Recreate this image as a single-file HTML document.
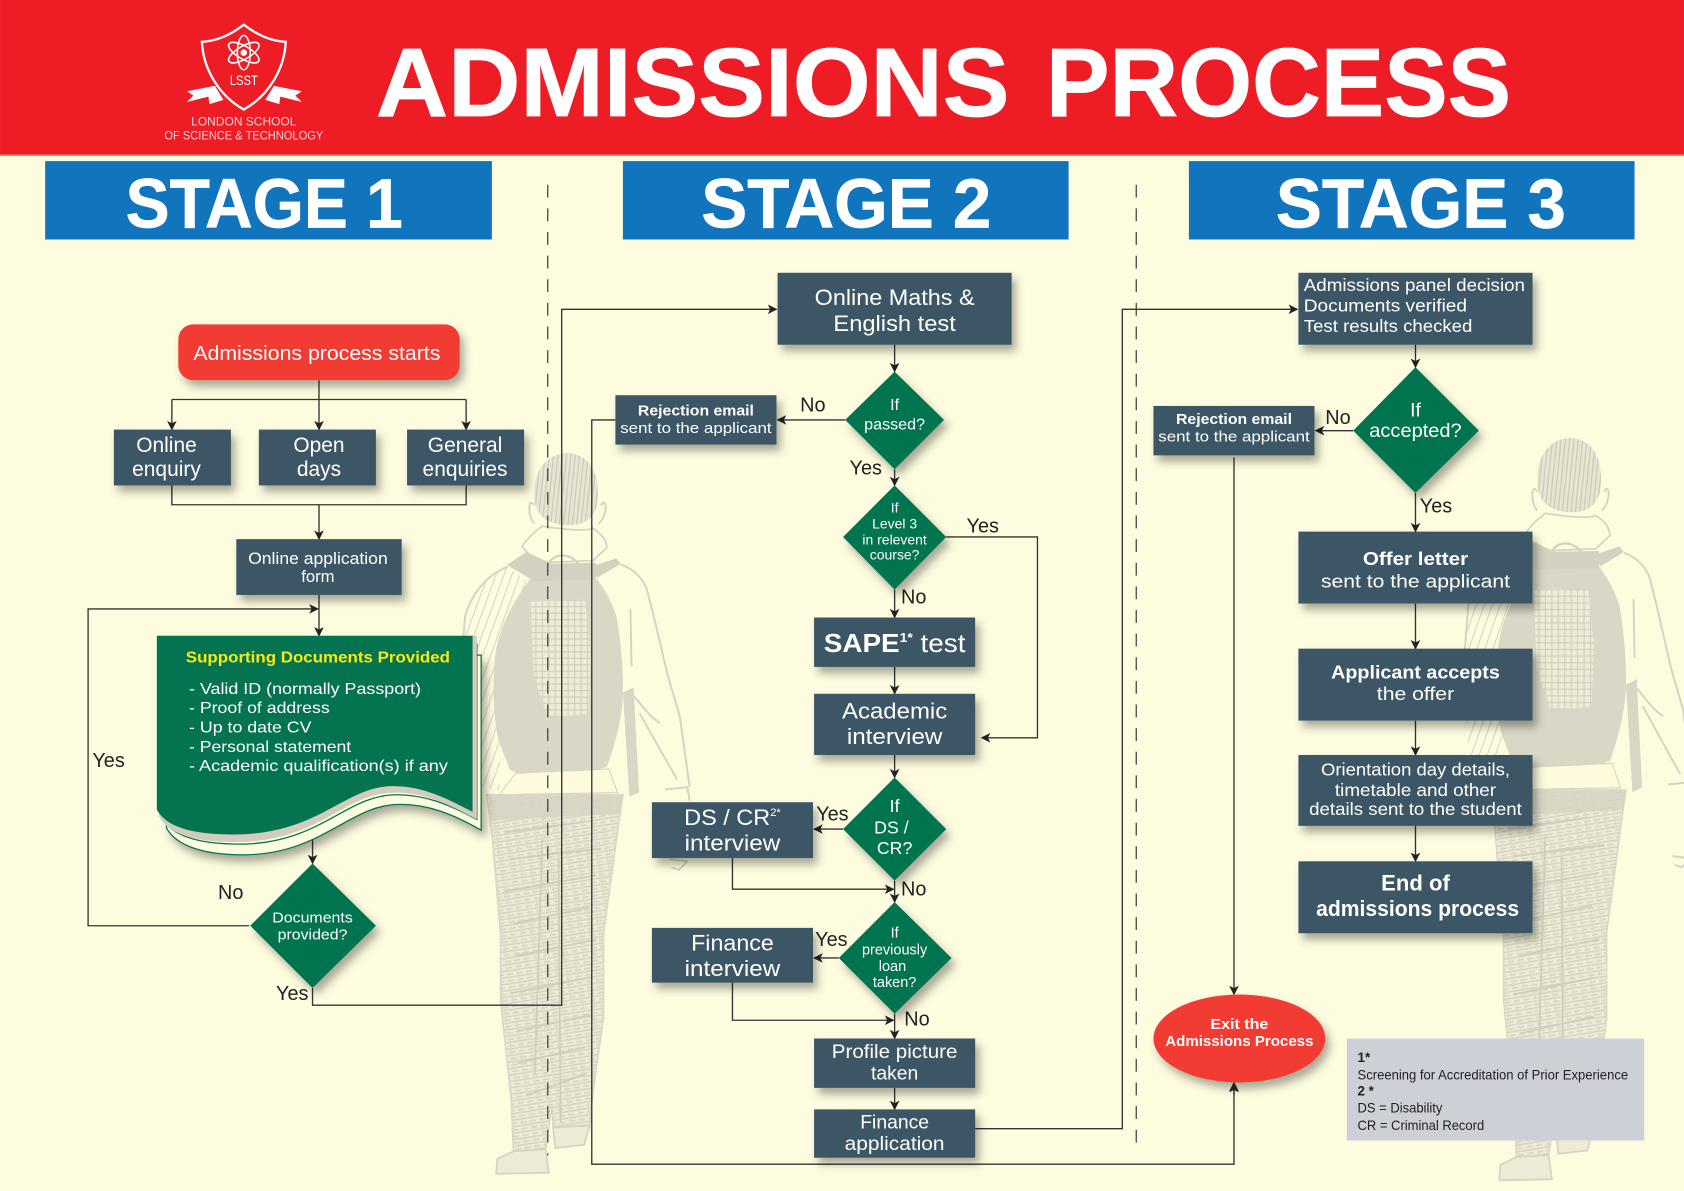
<!DOCTYPE html>
<html lang="en"><head><meta charset="utf-8"><title>Admissions Process</title>
<style>
html,body{margin:0;padding:0;background:#FEFCDF}
svg{display:block;width:1684px;height:1191px}
text{font-family:"Liberation Sans",sans-serif;fill:#fff}
.m{text-anchor:middle}
.b{font-weight:bold}
.k{fill:#222}
.l{fill:none;stroke:#333;stroke-width:1.25}
.a{marker-end:url(#ar)}
.box{fill:#3D5766;filter:url(#sh)}
.dia{fill:#04734F;filter:url(#sh)}
.fs{fill:none;stroke:#D5D3C1;stroke-width:1.8;stroke-linecap:round;stroke-linejoin:round}
</style></head><body>
<svg xmlns="http://www.w3.org/2000/svg" viewBox="0 0 1568 1109" width="1684" height="1191">
<defs>
<marker id="ar" viewBox="0 0 10 10" refX="9" refY="5" markerWidth="9" markerHeight="9" markerUnits="userSpaceOnUse" orient="auto"><path d="M0 0L10 5L0 10L2.5 5Z" fill="#222"/></marker>
<filter id="sh" x="-20%" y="-20%" width="145%" height="150%"><feDropShadow dx="4" dy="6" stdDeviation="4" flood-color="#000" flood-opacity=".33"/></filter>
<pattern id="hl" width="9" height="6" patternUnits="userSpaceOnUse" patternTransform="rotate(-9)"><path d="M0 1H9M0 4.2H6" stroke="#D3D1BF" stroke-width="1.2"/><path d="M2 0V6" stroke="#DEDCCA" stroke-width="1"/></pattern>
<pattern id="hg" width="6" height="6" patternUnits="userSpaceOnUse"><rect width="6" height="6" fill="#EEECD6"/><path d="M0 1H6M1 0V6" stroke="#CFCDBC" stroke-width="1"/></pattern>
<pattern id="hv" width="4" height="8" patternUnits="userSpaceOnUse" patternTransform="rotate(6)"><rect width="4" height="8" fill="#E8E6D2"/><path d="M1 0V8" stroke="#CDCBB9" stroke-width="1.3"/></pattern>
<pattern id="hd" width="7" height="7" patternUnits="userSpaceOnUse" patternTransform="rotate(20)"><path d="M1 0V7" stroke="#DCDAC8" stroke-width="1.2"/></pattern>
<g id="man">
<path d="M472 528C455 535 440 550 433 574L428 640L436 730L465 736L468 610L490 540Z" fill="url(#hd)"/>
<path class="fs" d="M472 528C455 535 440 550 433 574L428 640"/>
<path class="fs" d="M579 526C590 530 598 538 602 548L608 571L622 630L633 667L642 732M587 568L588 620M591 649C600 660 606 668 614 673M596 665L630 725M620 735L640 733L642 745"/>
<path d="M580 645L590 640L595 738L586 742Z" fill="#D8D6C4"/>
<path class="fs" d="M624 800L640 802L632 810L626 808"/>
<path class="fs" d="M497 470C492 462 491 480 497 487M560 470C565 462 566 480 558 487" />
<path d="M498 468C494 438 510 422 528 422C548 422 560 440 556 470C553 482 545 489 530 489C512 489 501 482 498 468Z" fill="url(#hv)"/>
<path d="M486 509C492 500 498 495 505 490C525 493 545 495 552 492C560 497 565 503 565 510L552 522L500 524Z" fill="#FEFCDF" stroke="#D5D3C1" stroke-width="1.6"/>
<path d="M493 540C478 560 464 585 461 611C458 640 460 670 464 689L475 717C490 724 510 725 530 724L565 714C574 690 580 665 580 642C580 620 578 595 574 574C568 555 560 545 552 534L520 528Z" fill="#D9D7C5"/>
<path d="M494 560L545 558L550 610L548 665L510 668L497 630Z" fill="url(#hg)"/>
<path d="M472 526L490 514L510 523L497 541ZM552 527L574 520L578 525L556 538ZM500 525L555 524L555 540L497 541Z" fill="#D3D1BF"/>
<path d="M510 527C514 514 532 514 540 527" fill="none" stroke="#D3D1BF" stroke-width="2"/>
<path d="M480 720L567 716L575 738L465 740Z" fill="#FEFBDD" stroke="#D5D3C1" stroke-width="1"/>
<path d="M453 740L580 740L577 760L562 869L562 947L552 1018L549 1050L515 1050L514 1030L508 1070L478 1072L476 1024L466 931L466 869L458 776Z" fill="#EDEBD6"/>
<path d="M453 740L580 740L577 760L562 869L562 947L552 1018L549 1050L515 1050L514 1030L508 1070L478 1072L476 1024L466 931L466 869L458 776Z" fill="url(#hl)" stroke="#D8D6C4" stroke-width="1.4"/>
<path d="M455 741H580L578 758L456 764Z" fill="#D6D4C2" opacity=".85"/>
<path d="M470 775L545 765M475 800L560 790M470 830L555 815M478 860L548 845M480 890L555 875M475 925L550 910M482 960L550 945M482 990L545 975M490 1020L545 1000M520 800L522 1045M505 780L498 1000" fill="none" stroke="#CFCDBB" stroke-width="1.6"/>
<path d="M478 1072L508 1070L511 1092L462 1093L463 1079Z" fill="#EDEBD6" stroke="#D5D3C1" stroke-width="1.6"/>
<path d="M515 1050L549 1048L544 1066L517 1069Z" fill="#EDEBD6" stroke="#D5D3C1" stroke-width="1.6"/>
</g>
</defs>
<rect width="1568" height="1109" fill="#FEFCDF"/>
<use href="#man"/>
<use href="#man" transform="translate(934 -26.7) scale(1 1.03)"/>
<rect width="1568" height="144" fill="#EE1C25"/>
<rect y="144" width="1568" height="1.2" fill="#F47A60"/>
<g font-size="91" class="b" style="stroke:#fff;stroke-width:.8">
<text x="350" y="108" textLength="590" lengthAdjust="spacingAndGlyphs">ADMISSIONS</text>
<text x="974" y="108" textLength="433" lengthAdjust="spacingAndGlyphs">PROCESS</text>
</g>

<!-- logo -->
<path d="M174 85L200 80L208 93L195 97L194 90L174 95L180 89Z M281 85L255 80L247 93L260 97L261 90L281 95L275 89Z" fill="#fff"/>
<path d="M227 23C240 33 252 38 266 39C265 62 252 88 227 102C202 88 189 62 188 39C202 38 214 33 227 23Z" fill="#EE1C25" stroke="#fff" stroke-width="2.2"/>
<g fill="none" stroke="#fff" stroke-width="1.5"><ellipse cx="227" cy="49" rx="6" ry="16"/><ellipse cx="227" cy="49" rx="6" ry="16" transform="rotate(60 227 49)"/><ellipse cx="227" cy="49" rx="6" ry="16" transform="rotate(-60 227 49)"/></g><circle cx="227" cy="49" r="3" fill="#fff"/>
<text x="227" y="79" font-size="12.5" class="m" textLength="26" lengthAdjust="spacingAndGlyphs">LSST</text>
<text x="227" y="117" font-size="11" class="m" fill-opacity=".8" textLength="98" lengthAdjust="spacingAndGlyphs" style="fill-opacity:.8">LONDON SCHOOL</text>
<text x="227" y="130" font-size="11" class="m" textLength="148" lengthAdjust="spacingAndGlyphs" style="fill-opacity:.8">OF SCIENCE &amp; TECHNOLOGY</text>

<!-- stage bars -->
<rect x="42" y="150" width="416" height="73" fill="#1175BE"/>
<rect x="580" y="150" width="415" height="73" fill="#1175BE"/>
<rect x="1107" y="150" width="415" height="73" fill="#1175BE"/>
<g font-size="65" class="b" style="stroke:#fff;stroke-width:.6">
<text x="117" y="212" textLength="258" lengthAdjust="spacingAndGlyphs">STAGE 1</text>
<text x="653" y="212" textLength="270" lengthAdjust="spacingAndGlyphs">STAGE 2</text>
<text x="1188" y="212" textLength="270" lengthAdjust="spacingAndGlyphs">STAGE 3</text>
</g>

<!-- dashed dividers -->
<path d="M510 172V1076M1058 172V1070" fill="none" stroke="#444" stroke-width="1.2" stroke-dasharray="12 10"/>

<!-- connectors -->
<g class="l">
<path class="a" d="M297 354V400"/><path d="M160 372H434"/><path class="a" d="M434 372V400"/>
<path class="a" d="M160 372V400"/>
<path d="M160 452V470H434V452"/><path class="a" d="M297 470V502"/><path class="a" d="M297 554V592"/>
<path class="a" d="M232 862H82V567H296"/>
<path class="a" d="M291 775V804"/>
<path class="a" d="M291 920V936H523V288H723"/>
<path class="a" d="M833 321V346"/><path class="a" d="M787 391H724"/>
<path class="a" d="M573 391H551V1084H1149V1009"/>
<path class="a" d="M833 437V452"/><path class="a" d="M881 500H966V687H914"/>
<path class="a" d="M833 549V575"/><path class="a" d="M833 621V646"/><path class="a" d="M833 703V724"/>
<path class="a" d="M785 772H758"/><path class="a" d="M682 799V828H832"/><path class="a" d="M833 820V840"/>
<path class="a" d="M781 892H758"/><path class="a" d="M682 915V950H832"/><path class="a" d="M833 944V967"/>
<path class="a" d="M833 1013V1033"/>
<path class="a" d="M908 1051H1045V288H1208"/>
<path class="a" d="M1318 321V342"/><path class="a" d="M1260 401H1225"/>
<path class="a" d="M1149 426V926"/>
<path class="a" d="M1318 459V495"/><path class="a" d="M1318 562V604"/><path class="a" d="M1318 671V703"/><path class="a" d="M1318 769V802"/>
</g>

<!-- stage 1 -->
<rect x="166" y="302" width="262" height="52" rx="14" fill="#F23B32" filter="url(#sh)"/>
<text x="295" y="335" font-size="18.5" class="m" textLength="230" lengthAdjust="spacingAndGlyphs">Admissions process starts</text>
<rect class="box" x="106" y="400" width="109" height="52"/>
<rect class="box" x="241" y="400" width="109" height="52"/>
<rect class="box" x="379" y="400" width="109" height="52"/>
<g font-size="19.5" class="m">
<text x="155" y="421">Online</text><text x="155" y="443">enquiry</text>
<text x="297" y="421">Open</text><text x="297" y="443">days</text>
<text x="433" y="421">General</text><text x="433" y="443">enquiries</text>
</g>
<rect class="box" x="220" y="502" width="154" height="52"/>
<text x="296" y="525" font-size="15.5" class="m" textLength="130" lengthAdjust="spacingAndGlyphs">Online application</text>
<text x="296" y="542" font-size="15.5" class="m">form</text>

<!-- document -->
<path d="M155 610H448V773C420 757 398 749 372 749C325 749 300 796 226 796C188 796 164 787 155 771Z" fill="#FEFCDF" stroke="#04734F" stroke-width="1.2" filter="url(#sh)"/>
<path d="M151 600H444V763C416 748 395 740 369 740C322 740 298 786 223 786C184 786 160 778 151 762Z" fill="#FEFCDF" stroke="#04734F" stroke-width="1.2"/>
<path d="M148 592H444V763C416 748 395 738 368 738C320 738 298 784 220 784C180 784 156 776 148 760Z" fill="#D2CCBC"/>
<path d="M146 592H440V756C410 740 390 732 366 732C320 732 298 777 217 777C178 777 155 770 146 754Z" fill="#04734F"/>
<text x="296" y="617" font-size="15" class="m b" style="fill:#F6EB16" textLength="246" lengthAdjust="spacingAndGlyphs">Supporting Documents Provided</text>
<g font-size="15">
<text x="176" y="646" textLength="216" lengthAdjust="spacingAndGlyphs">- Valid ID (normally Passport)</text>
<text x="176" y="664" textLength="131" lengthAdjust="spacingAndGlyphs">- Proof of address</text>
<text x="176" y="682" textLength="114" lengthAdjust="spacingAndGlyphs">- Up to date CV</text>
<text x="176" y="700" textLength="151" lengthAdjust="spacingAndGlyphs">- Personal statement</text>
<text x="176" y="718" textLength="241" lengthAdjust="spacingAndGlyphs">- Academic qualification(s) if any</text>
</g>
<path class="dia" d="M291 804L350 862L291 920L233 862Z"/>
<text x="291" y="859" font-size="13.5" class="m" textLength="75" lengthAdjust="spacingAndGlyphs">Documents</text>
<text x="291" y="875" font-size="13.5" class="m" textLength="65" lengthAdjust="spacingAndGlyphs">provided?</text>
<g font-size="18.5">
<text x="86" y="714" class="k">Yes</text><text x="203" y="837" class="k">No</text><text x="257" y="931" class="k">Yes</text>
<text x="745" y="383" class="k">No</text><text x="791" y="442" class="k">Yes</text><text x="900" y="496" class="k">Yes</text>
<text x="839" y="562" class="k">No</text><text x="760" y="764" class="k">Yes</text><text x="839" y="834" class="k">No</text>
<text x="759" y="881" class="k">Yes</text><text x="842" y="955" class="k">No</text>
<text x="1234" y="395" class="k">No</text><text x="1322" y="477" class="k">Yes</text>
</g>

<!-- stage 2 -->
<rect class="box" x="724" y="254" width="218" height="67"/>
<text x="833" y="284" font-size="20.5" class="m" textLength="149" lengthAdjust="spacingAndGlyphs">Online Maths &amp;</text>
<text x="833" y="308" font-size="20.5" class="m" textLength="114" lengthAdjust="spacingAndGlyphs">English test</text>
<path class="dia" d="M833 346L879 391L833 437L787 391Z"/>
<text x="833" y="382" font-size="15" class="m">If</text><text x="833" y="400" font-size="15" class="m">passed?</text>
<rect class="box" x="573" y="368" width="150" height="46"/>
<text x="648" y="387" font-size="14" class="m b" textLength="108" lengthAdjust="spacingAndGlyphs">Rejection email</text>
<text x="648" y="403" font-size="14" class="m" textLength="141" lengthAdjust="spacingAndGlyphs">sent to the applicant</text>
<path class="dia" d="M833 452L881 500L833 549L785 500Z"/>
<g font-size="13" class="m"><text x="833" y="477">If</text><text x="833" y="492">Level 3</text><text x="833" y="507">in relevent</text><text x="833" y="521">course?</text></g>
<rect class="box" x="758" y="575" width="150" height="46"/>
<text x="767" y="607" font-size="24" textLength="132" lengthAdjust="spacingAndGlyphs"><tspan class="b">SAPE</tspan><tspan font-size="12" dy="-9" class="b">1*</tspan><tspan dy="9"> test</tspan></text>
<rect class="box" x="758" y="646" width="150" height="57"/>
<text x="833" y="669" font-size="21" class="m" textLength="98" lengthAdjust="spacingAndGlyphs">Academic</text>
<text x="833" y="693" font-size="21" class="m" textLength="89" lengthAdjust="spacingAndGlyphs">interview</text>
<path class="dia" d="M833 724L881 772L833 820L785 772Z"/>
<g font-size="16.5" class="m"><text x="833" y="756">If</text><text x="830" y="776">DS /</text><text x="833" y="795">CR?</text></g>
<rect class="box" x="607" y="747" width="150" height="52"/>
<text x="682" y="768" font-size="21" class="m" textLength="90" lengthAdjust="spacingAndGlyphs">DS / CR<tspan font-size="10" dy="-8">2*</tspan></text>
<text x="682" y="792" font-size="21" class="m" textLength="89" lengthAdjust="spacingAndGlyphs">interview</text>
<path class="dia" d="M833 840L886 892L833 944L781 892Z"/>
<g font-size="13.5" class="m"><text x="833" y="873">If</text><text x="833" y="889">previously</text><text x="831" y="904">loan</text><text x="833" y="919">taken?</text></g>
<rect class="box" x="607" y="864" width="150" height="51"/>
<text x="682" y="885" font-size="21" class="m" textLength="77" lengthAdjust="spacingAndGlyphs">Finance</text>
<text x="682" y="909" font-size="21" class="m" textLength="89" lengthAdjust="spacingAndGlyphs">interview</text>
<rect class="box" x="758" y="967" width="150" height="46"/>
<text x="833" y="985" font-size="18" class="m" textLength="117" lengthAdjust="spacingAndGlyphs">Profile picture</text>
<text x="833" y="1005" font-size="18" class="m">taken</text>
<rect class="box" x="758" y="1033" width="150" height="45"/>
<text x="833" y="1051" font-size="18" class="m">Finance</text>
<text x="833" y="1071" font-size="18" class="m" textLength="93" lengthAdjust="spacingAndGlyphs">application</text>

<!-- stage 3 -->
<rect class="box" x="1209" y="254" width="218" height="67"/>
<g font-size="16.5">
<text x="1214" y="271" textLength="206" lengthAdjust="spacingAndGlyphs">Admissions panel decision</text>
<text x="1214" y="290" textLength="152" lengthAdjust="spacingAndGlyphs">Documents verified</text>
<text x="1214" y="309" textLength="157" lengthAdjust="spacingAndGlyphs">Test results checked</text>
</g>
<path class="dia" d="M1318 342L1377 401L1318 459L1260 401Z"/>
<text x="1318" y="388" font-size="18" class="m">If</text><text x="1318" y="407" font-size="18" class="m" textLength="86" lengthAdjust="spacingAndGlyphs">accepted?</text>
<rect class="box" x="1074" y="378" width="150" height="46"/>
<text x="1149" y="395" font-size="14" class="m b" textLength="108" lengthAdjust="spacingAndGlyphs">Rejection email</text>
<text x="1149" y="411" font-size="14" class="m" textLength="141" lengthAdjust="spacingAndGlyphs">sent to the applicant</text>
<rect class="box" x="1209" y="495" width="218" height="67"/>
<text x="1318" y="526" font-size="17.5" class="m b" textLength="98" lengthAdjust="spacingAndGlyphs">Offer letter</text>
<text x="1318" y="547" font-size="17.5" class="m" textLength="176" lengthAdjust="spacingAndGlyphs">sent to the applicant</text>
<rect class="box" x="1209" y="604" width="218" height="67"/>
<text x="1318" y="632" font-size="17.5" class="m b" textLength="157" lengthAdjust="spacingAndGlyphs">Applicant accepts</text>
<text x="1318" y="652" font-size="17.5" class="m" textLength="72" lengthAdjust="spacingAndGlyphs">the offer</text>
<rect class="box" x="1209" y="703" width="218" height="66"/>
<g font-size="16" class="m">
<text x="1318" y="722" textLength="176" lengthAdjust="spacingAndGlyphs">Orientation day details,</text>
<text x="1318" y="741" textLength="150" lengthAdjust="spacingAndGlyphs">timetable and other</text>
<text x="1318" y="759" textLength="198" lengthAdjust="spacingAndGlyphs">details sent to the student</text>
</g>
<rect class="box" x="1209" y="802" width="218" height="67"/>
<text x="1318" y="829" font-size="21" class="m b" textLength="64" lengthAdjust="spacingAndGlyphs">End of</text>
<text x="1320" y="853" font-size="21" class="m b" textLength="189" lengthAdjust="spacingAndGlyphs">admissions process</text>
<ellipse cx="1154" cy="967" rx="80" ry="41" fill="#F23B32" filter="url(#sh)"/>
<text x="1154" y="958" font-size="14" class="m b" textLength="54" lengthAdjust="spacingAndGlyphs">Exit the</text>
<text x="1154" y="974" font-size="14" class="m b" textLength="138" lengthAdjust="spacingAndGlyphs">Admissions Process</text>
<path class="l a" d="M1149 1020V1008"/>
<rect x="1254" y="967" width="277" height="95" fill="#CDD0D6"/>
<g font-size="12.5">
<text x="1264" y="989" class="k b">1*</text>
<text x="1264" y="1005" class="k" textLength="252" lengthAdjust="spacingAndGlyphs">Screening for Accreditation of Prior Experience</text>
<text x="1264" y="1020" class="k b">2 *</text>
<text x="1264" y="1036" class="k" textLength="79" lengthAdjust="spacingAndGlyphs">DS = Disability</text>
<text x="1264" y="1052" class="k" textLength="118" lengthAdjust="spacingAndGlyphs">CR = Criminal Record</text>
</g>
</svg>
</body></html>
